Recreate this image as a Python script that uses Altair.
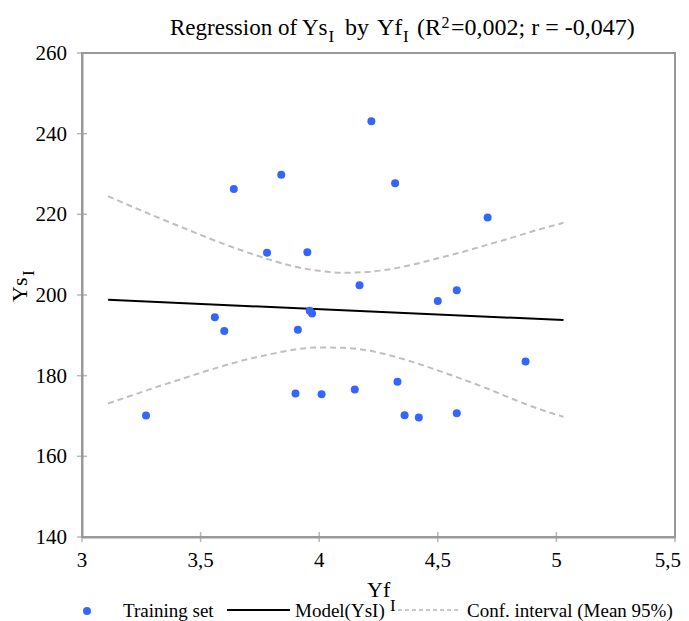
import altair as alt
import pandas as pd

# ---- data ----
pts_x = [3.27, 3.56, 3.60, 3.64, 3.78, 3.84, 3.95, 3.96, 3.97, 3.91, 3.90, 4.01,
         4.15, 4.17, 4.22, 4.32, 4.33, 4.36, 4.42, 4.50, 4.58, 4.58, 4.71, 4.87]
pts_y = [170.1, 194.5, 191.1, 226.3, 210.5, 229.8, 210.6, 196.1, 195.4, 191.4, 175.6, 175.4,
         176.6, 202.4, 243.1, 227.7, 178.5, 170.2, 169.6, 198.5, 201.2, 170.7, 219.2, 183.5]

model_x = [3.11, 5.03]
model_y = [198.8, 193.8]

ci_x = [3.11, 3.2, 3.3, 3.4, 3.5, 3.6, 3.7, 3.8, 3.9, 4.0, 4.1,
        4.2, 4.3, 4.4, 4.5, 4.6, 4.7, 4.8, 4.9, 5.03]
ci_upper = [224.5, 222.2, 219.7, 217.3, 214.9, 212.6, 210.5, 208.6, 207.0, 206.0, 205.5,
            205.7, 206.4, 207.6, 209.1, 210.6, 212.3, 214.0, 215.8, 217.9]
ci_lower = [173.1, 174.9, 176.9, 178.8, 180.7, 182.5, 184.1, 185.4, 186.5, 187.0, 186.9,
            186.3, 185.0, 183.3, 181.3, 179.2, 177.0, 174.6, 172.3, 169.8]

x_ticks = [3, 3.5, 4, 4.5, 5, 5.5]
x_tick_labels = ["3", "3,5", "4", "4,5", "5", "5,5"]
y_ticks = [140, 160, 180, 200, 220, 240, 260]
y_tick_labels = ["140", "160", "180", "200", "220", "240", "260"]

FONT = "Liberation Serif"
GRAY = "#999999"
BLUE = "#3366ff"

pts_df = pd.DataFrame({"x": pts_x, "y": pts_y})
model_df = pd.DataFrame({"x": model_x, "y": model_y})
ci_df = pd.concat([
    pd.DataFrame({"x": ci_x, "y": ci_upper, "side": "upper"}),
    pd.DataFrame({"x": ci_x, "y": ci_lower, "side": "lower"}),
])
xt_df = pd.DataFrame({"x": x_ticks, "label": x_tick_labels})
yt_df = pd.DataFrame({"y": y_ticks, "label": y_tick_labels})

xscale = alt.Scale(domain=[3, 5.5], nice=False, zero=False)
yscale = alt.Scale(domain=[140, 260], nice=False, zero=False)
common_axis = dict(title=None, grid=False, ticks=False, labels=False,
                   domainColor=GRAY, domainWidth=2)
xaxis = alt.Axis(values=x_ticks, **common_axis)
yaxis = alt.Axis(values=y_ticks, **common_axis)


def X():
    return alt.X("x:Q", scale=xscale, axis=xaxis)


def Y():
    return alt.Y("y:Q", scale=yscale, axis=yaxis)


# tick marks crossing the axis lines
xtick_layer = alt.Chart(xt_df).mark_tick(color=GRAY, size=10, thickness=1.5).encode(
    x=X(), y=alt.value(484))
ytick_layer = alt.Chart(yt_df).mark_tick(color=GRAY, size=10, thickness=1.5).encode(
    y=Y(), x=alt.value(0))

# tick labels (serif, drawn through the scales)
xlab_layer = alt.Chart(xt_df).transform_filter("datum.x < 5.5").mark_text(
    font=FONT, fontSize=21, color="black", align="center", baseline="alphabetic"
).encode(x=X(), y=alt.value(514), text="label:N")
xlab_last = alt.Chart(xt_df).transform_filter("datum.x >= 5.5").mark_text(
    font=FONT, fontSize=21, color="black", align="right", baseline="alphabetic", dx=6
).encode(x=X(), y=alt.value(514), text="label:N")
ylab_layer = alt.Chart(yt_df).mark_text(
    font=FONT, fontSize=21, color="black", align="right", baseline="middle", dy=1
).encode(y=Y(), x=alt.value(-15), text="label:N")

ci_layer = alt.Chart(ci_df).mark_line(
    color="#bfbfbf", strokeWidth=2, strokeDash=[6, 4], interpolate="monotone"
).encode(x=X(), y=Y(), detail="side:N")

model_layer = alt.Chart(model_df).mark_line(color="black", strokeWidth=2).encode(x=X(), y=Y())

pts_layer = alt.Chart(pts_df).mark_point(
    filled=True, size=64, color=BLUE, opacity=1
).encode(x=X(), y=Y())

one = alt.Data(values=[{"k": 1}])


def txt(s, x, y, size, angle=0, align="left", baseline="alphabetic"):
    kw = dict(font=FONT, fontSize=size, color="black", align=align, baseline=baseline)
    if angle:
        kw["angle"] = angle
    return alt.Chart(one).mark_text(**kw).encode(
        x=alt.value(x), y=alt.value(y), text=alt.value(s))


# title pieces (plot origin at page 82,53)
title_layers = [
    txt("Regression of Ys", 88, -18, 23),
    txt("I", 246.5, -11, 17),
    txt("by", 263, -18, 24),
    txt("Yf", 295, -18, 24),
    txt("I", 321, -11, 17),
    txt("(R", 335, -18, 24),
    txt("2", 359.5, -25, 16),
    txt("=0,002; r = -0,047)", 369, -18, 24),
]

# axis titles
axis_title_layers = [
    txt("Yf", 285, 544, 22),
    txt("I", 308, 558, 17),
    txt("Ys", -55, 249, 22, angle=270),
    txt("I", -48, 223, 17, angle=270),
]

# legend
legend_layers = [
    alt.Chart(one).mark_point(filled=True, size=64, color=BLUE, opacity=1).encode(
        x=alt.value(5), y=alt.value(558)),
    txt("Training set", 41, 564, 19),
    alt.Chart(one).mark_rule(color="black", strokeWidth=2).encode(
        x=alt.value(145), x2=alt.value(208), y=alt.value(557)),
    txt("Model(YsI)", 213, 564, 19),
    alt.Chart(one).mark_rule(color="#c8c8c8", strokeWidth=2, strokeDash=[4, 3]).encode(
        x=alt.value(316), x2=alt.value(378), y=alt.value(557)),
    txt("Conf. interval (Mean 95%)", 385, 564, 19),
]

chart = alt.layer(
    xtick_layer, ytick_layer, xlab_layer, xlab_last, ylab_layer,
    ci_layer, model_layer, pts_layer,
    *title_layers, *axis_title_layers, *legend_layers
).properties(
    width=593, height=484,
    autosize=alt.AutoSizeParams(type="none"),
    padding={"left": 74, "top": 45, "right": 6, "bottom": 84},
).configure(
    font=FONT
).configure_view(
    stroke=GRAY, strokeWidth=2
)

chart.save("out.html", embed_options={"renderer": "svg", "actions": False})
